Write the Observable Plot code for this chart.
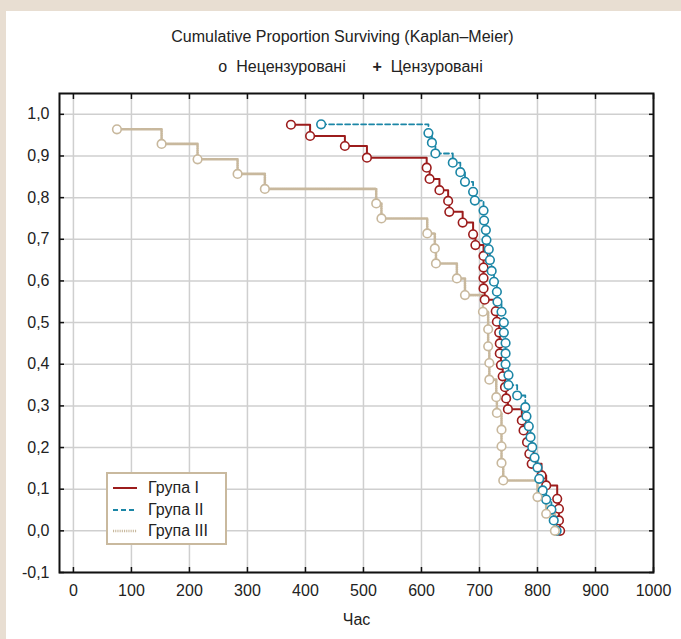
<!DOCTYPE html>
<html><head><meta charset="utf-8">
<script src="https://cdn.jsdelivr.net/npm/d3@7"></script>
<script src="https://cdn.jsdelivr.net/npm/@observablehq/plot@0.6"></script>
<style>
body{margin:0;background:#e8ded2;}
#page{position:relative;width:681px;height:639px;overflow:hidden;font-family:"Liberation Sans",Arial,sans-serif;color:#222;}
#panel{position:absolute;left:6px;top:11px;right:0;bottom:0;background:#fff;}
#head{position:relative;height:78px;}
#title{position:absolute;top:28px;left:0;width:685px;text-align:center;font-size:16px;}
#keys{position:absolute;top:58px;left:0;width:701px;text-align:center;font-size:16px;}
#keys .sym{margin-right:9px;}
#chart{position:relative;}
#legend{position:absolute;left:106px;top:472px;width:117px;height:69px;border:2px solid #c9b99e;background:#fff;font-size:16px;}
#legend .row{position:absolute;left:0;height:20px;line-height:20px;white-space:nowrap;}
#legend svg{position:absolute;left:5px;top:5px;}
#legend span{position:absolute;left:40px;top:0;}
</style></head>
<body>
<div id="page">
  <div id="panel"></div>
  <div id="head">
    <div id="title">Cumulative Proportion Surviving (Kaplan–Meier)</div>
    <div id="keys"><span class="sym">o</span>Нецензуровані&nbsp;&nbsp;&nbsp;&nbsp;&nbsp;&nbsp;<span class="sym" style="font-weight:bold">+</span>Цензуровані</div>
  </div>
  <div id="chart"></div>
  <div id="legend"></div>
</div>
<script>
// ---- data ----
const groupNames = ["Група I", "Група II", "Група III"];
const groupColors = ["#9c1c1c", "#1b86a6", "#c8b89d"];

const timeI = [375,408,468,506,609,614,631,646,648,671,689,693,707,707,707,707,709,728,730,734,735,735,737,740,744,746,749,773,776,782,786,790,807,815,834,837,837,839];
const survI = [0.975,0.948,0.924,0.896,0.872,0.845,0.818,0.792,0.766,0.740,0.712,0.686,0.660,0.632,0.607,0.582,0.555,0.527,0.502,0.476,0.450,0.426,0.398,0.371,0.345,0.318,0.292,0.265,0.241,0.213,0.185,0.161,0.133,0.109,0.077,0.053,0.025,0.0];

const timeII = [427,612,618,624,654,667,675,689,692,707,708,711,712,716,718,721,725,730,731,738,742,742,745,745,745,750,750,765,779,781,785,788,791,795,800,803,809,815,824,828,833];
const survII = [0.976,0.955,0.932,0.906,0.884,0.861,0.838,0.814,0.793,0.769,0.745,0.722,0.698,0.676,0.650,0.624,0.598,0.574,0.550,0.526,0.500,0.476,0.451,0.426,0.400,0.374,0.350,0.325,0.297,0.275,0.251,0.225,0.201,0.176,0.152,0.125,0.097,0.075,0.051,0.025,0.0];

const timeIII = [75,152,214,283,330,522,531,610,623,625,661,675,706,715,715,717,717,729,730,738,738,738,741,800,815,830];
const survIII = [0.964,0.929,0.892,0.857,0.821,0.786,0.750,0.714,0.678,0.642,0.606,0.566,0.526,0.484,0.443,0.403,0.363,0.321,0.283,0.243,0.203,0.163,0.121,0.081,0.041,0.0];

const xTicks = [0,100,200,300,400,500,600,700,800,900,1000];
const yTicks = [-0.1,0,0.1,0.2,0.3,0.4,0.5,0.6,0.7,0.8,0.9,1.0];

// ---- build ----
const toRows = (t, s) => t.map((x, i) => ({time: x, surv: s[i]}));
const series = [toRows(timeI, survI), toRows(timeII, survII), toRows(timeIII, survIII)];
const lineStyles = [
  {strokeWidth: 2},
  {strokeWidth: 1.8, strokeDasharray: "5,3"},
  {strokeWidth: 2.6, strokeDasharray: "1.1,1.1"}
];
const fmtY = d => d.toFixed(1).replace(".", ",");
const fmtX = d => String(d);
const font = '"Liberation Sans",Arial,sans-serif';

const seriesMarks = [];
series.forEach((rows, i) => {
  seriesMarks.push(Plot.line(rows, {x: "time", y: "surv", curve: "step-after", stroke: groupColors[i], ...lineStyles[i]}));
});
series.forEach((rows, i) => {
  seriesMarks.push(Plot.dot(rows, {x: "time", y: "surv", r: 4.3, fill: "white", stroke: groupColors[i], strokeWidth: 1.6}));
});

const chart = Plot.plot({
  width: 681, height: 561,
  marginTop: 15, marginBottom: 67, marginLeft: 59, marginRight: 28,
  style: {background: "transparent", fontFamily: font, fontSize: "16px", color: "#222", overflow: "visible"},
  x: {domain: [-24, 1000]},
  y: {domain: [-0.1, 1.05]},
  marks: [
    Plot.gridX(xTicks, {stroke: "#cfcfcf", strokeOpacity: 1, strokeWidth: 1.5}),
    Plot.gridY(yTicks, {stroke: "#cfcfcf", strokeOpacity: 1, strokeWidth: 1.5}),
    ...seriesMarks,
    Plot.frame({stroke: "#111", strokeWidth: 2}),
    Plot.axisX(xTicks, {anchor: "bottom", tickSize: -5, text: null, label: null, stroke: "#111", strokeWidth: 1.5}),
    Plot.axisX(xTicks, {anchor: "top", tickSize: -5, text: null, label: null, stroke: "#111", strokeWidth: 1.5}),
    Plot.axisY(yTicks, {anchor: "left", tickSize: -5, text: null, label: null, stroke: "#111", strokeWidth: 1.5}),
    Plot.axisY(yTicks, {anchor: "right", tickSize: -5, text: null, label: null, stroke: "#111", strokeWidth: 1.5}),
    Plot.axisX(xTicks, {anchor: "bottom", tickSize: 0, tickPadding: 12, fontSize: 16, tickFormat: fmtX, label: "Час", labelAnchor: "center", labelArrow: "none", labelOffset: 52}),
    Plot.axisY(yTicks, {anchor: "left", tickSize: 0, tickPadding: 10, fontSize: 16, tickFormat: fmtY, label: null})
  ]
});
document.getElementById("chart").appendChild(chart);

// ---- legend (inside plot area) ----
const leg = document.getElementById("legend");
groupNames.forEach((name, i) => {
  const row = document.createElement("div");
  row.className = "row";
  row.style.top = (4 + i * 21.5) + "px";
  const st = lineStyles[i];
  row.innerHTML = `<svg width="26" height="10"><line x1="0" x2="24" y1="5" y2="5" stroke="${groupColors[i]}" stroke-width="${st.strokeWidth}" ${st.strokeDasharray ? `stroke-dasharray="${st.strokeDasharray}"` : ""}/></svg><span>${name}</span>`;
  leg.appendChild(row);
});
</script>
</body></html>
